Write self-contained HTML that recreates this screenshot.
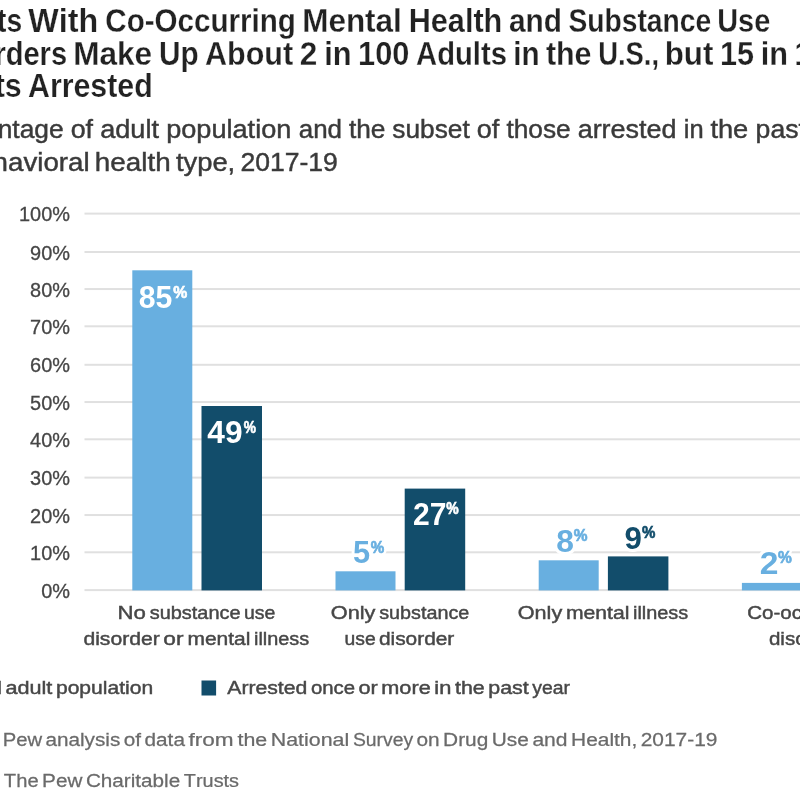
<!DOCTYPE html>
<html><head><meta charset="utf-8"><style>
html,body{margin:0;padding:0;background:#fff;width:800px;height:800px;overflow:hidden}
svg{display:block;filter:blur(0.4px)}
text{font-family:"Liberation Sans",sans-serif;font-kerning:none;white-space:pre}
</style></head><body>
<svg width="800" height="800" viewBox="0 0 800 800">
<rect width="800" height="800" fill="#fff"/>
<rect x="84.5" y="589.10" width="716" height="2" fill="#e0e0e0"/>
<rect x="84.5" y="551.31" width="716" height="2" fill="#e0e0e0"/>
<rect x="84.5" y="514.06" width="716" height="2" fill="#e0e0e0"/>
<rect x="84.5" y="476.62" width="716" height="2" fill="#e0e0e0"/>
<rect x="84.5" y="438.31" width="716" height="2" fill="#e0e0e0"/>
<rect x="84.5" y="401.06" width="716" height="2" fill="#e0e0e0"/>
<rect x="84.5" y="363.81" width="716" height="2" fill="#e0e0e0"/>
<rect x="84.5" y="325.31" width="716" height="2" fill="#e0e0e0"/>
<rect x="84.5" y="288.06" width="716" height="2" fill="#e0e0e0"/>
<rect x="84.5" y="251.00" width="716" height="2" fill="#e0e0e0"/>
<rect x="84.5" y="212.60" width="716" height="2" fill="#e0e0e0"/>
<rect x="132.30" y="270.30" width="60.0" height="320.10" fill="#68afe0"/>
<rect x="201.50" y="406.00" width="60.5" height="184.40" fill="#124d6b"/>
<rect x="335.50" y="571.30" width="60.0" height="19.10" fill="#68afe0"/>
<rect x="404.70" y="488.60" width="60.5" height="101.80" fill="#124d6b"/>
<rect x="538.70" y="560.30" width="60.0" height="30.10" fill="#68afe0"/>
<rect x="607.90" y="556.40" width="60.5" height="34.00" fill="#124d6b"/>
<rect x="741.90" y="582.90" width="60.0" height="7.50" fill="#68afe0"/>
<text transform="translate(-65.66 31.70) scale(0.8352 1)" font-size="33.80" font-weight="bold" fill="#222222" stroke="#fff" stroke-width="0.25" word-spacing="-2.08">Adults </text>
<text transform="translate(28.27 31.70) scale(0.9553 1)" font-size="33.80" font-weight="bold" fill="#222222" stroke="#fff" stroke-width="0.25" word-spacing="-2.08">With </text>
<text transform="translate(105.29 31.70) scale(0.8751 1)" font-size="33.80" font-weight="bold" fill="#222222" stroke="#fff" stroke-width="0.25" word-spacing="-2.08">Co-Occurring </text>
<text transform="translate(302.19 31.70) scale(0.9313 1)" font-size="33.80" font-weight="bold" fill="#222222" stroke="#fff" stroke-width="0.25" word-spacing="-2.08">Mental </text>
<text transform="translate(408.75 31.70) scale(0.9055 1)" font-size="33.80" font-weight="bold" fill="#222222" stroke="#fff" stroke-width="0.25" word-spacing="-2.08">Health </text>
<text transform="translate(508.93 31.70) scale(0.8830 1)" font-size="33.80" font-weight="bold" fill="#222222" stroke="#fff" stroke-width="0.25" word-spacing="-2.08">and </text>
<text transform="translate(568.49 31.70) scale(0.8349 1)" font-size="33.80" font-weight="bold" fill="#222222" stroke="#fff" stroke-width="0.25" word-spacing="-2.08">Substance </text>
<text transform="translate(717.27 31.70) scale(0.8535 1)" font-size="33.80" font-weight="bold" fill="#222222" stroke="#fff" stroke-width="0.25" word-spacing="-2.08">Use</text>
<text transform="translate(-68.52 64.70) scale(0.8595 1)" font-size="33.80" font-weight="bold" fill="#222222" stroke="#fff" stroke-width="0.25" word-spacing="-2.11">Disorders </text>
<text transform="translate(73.19 64.70) scale(0.9334 1)" font-size="33.80" font-weight="bold" fill="#222222" stroke="#fff" stroke-width="0.25" word-spacing="-2.11">Make </text>
<text transform="translate(159.01 64.70) scale(0.8798 1)" font-size="33.80" font-weight="bold" fill="#222222" stroke="#fff" stroke-width="0.25" word-spacing="-2.11">Up </text>
<text transform="translate(205.04 64.70) scale(0.9029 1)" font-size="33.80" font-weight="bold" fill="#222222" stroke="#fff" stroke-width="0.25" word-spacing="-2.11">About </text>
<text transform="translate(299.70 64.70) scale(0.9352 1)" font-size="33.80" font-weight="bold" fill="#222222" stroke="#fff" stroke-width="0.25" word-spacing="-2.11">2 </text>
<text transform="translate(324.15 64.70) scale(0.9098 1)" font-size="33.80" font-weight="bold" fill="#222222" stroke="#fff" stroke-width="0.25" word-spacing="-2.11">in 100 </text>
<text transform="translate(416.07 64.70) scale(0.8644 1)" font-size="33.80" font-weight="bold" fill="#222222" stroke="#fff" stroke-width="0.25" word-spacing="-2.11">Adults </text>
<text transform="translate(513.23 64.70) scale(0.8764 1)" font-size="33.80" font-weight="bold" fill="#222222" stroke="#fff" stroke-width="0.25" word-spacing="-2.11">in </text>
<text transform="translate(545.93 64.70) scale(0.8977 1)" font-size="33.80" font-weight="bold" fill="#222222" stroke="#fff" stroke-width="0.25" word-spacing="-2.11">the </text>
<text transform="translate(598.15 64.70) scale(0.8111 1)" font-size="33.80" font-weight="bold" fill="#222222" stroke="#fff" stroke-width="0.25" word-spacing="-2.11">U.S., </text>
<text transform="translate(664.74 64.70) scale(0.9242 1)" font-size="33.80" font-weight="bold" fill="#222222" stroke="#fff" stroke-width="0.25" word-spacing="-2.11">but </text>
<text transform="translate(720.07 64.70) scale(0.9045 1)" font-size="33.80" font-weight="bold" fill="#222222" stroke="#fff" stroke-width="0.25" word-spacing="-2.11">15 </text>
<text transform="translate(760.66 64.70) scale(0.9087 1)" font-size="33.80" font-weight="bold" fill="#222222" stroke="#fff" stroke-width="0.25" word-spacing="-2.11">in </text>
<text transform="translate(794.61 64.70) scale(0.8872 1)" font-size="33.80" font-weight="bold" fill="#222222" stroke="#fff" stroke-width="0.25" word-spacing="-2.11">100</text>
<text transform="translate(-72.64 97.20) scale(0.8967 1)" font-size="33.80" font-weight="bold" fill="#222222" stroke="#fff" stroke-width="0.25" word-spacing="-2.25">Adults </text>
<text transform="translate(28.05 97.20) scale(0.8967 1)" font-size="33.80" font-weight="bold" fill="#222222" stroke="#fff" stroke-width="0.25" word-spacing="-2.25">Arrested</text>
<text transform="translate(-71.19 137.90) scale(1.0144 1)" font-size="26.00" fill="#3a3a3a" stroke="#3a3a3a" stroke-width="0.45" word-spacing="-0.34">Percentage </text>
<text transform="translate(70.67 137.90) scale(1.0322 1)" font-size="26.00" fill="#3a3a3a" stroke="#3a3a3a" stroke-width="0.45" word-spacing="-0.34">of </text>
<text transform="translate(100.15 137.90) scale(1.0439 1)" font-size="26.00" fill="#3a3a3a" stroke="#3a3a3a" stroke-width="0.45" word-spacing="-0.34">adult population </text>
<text transform="translate(298.70 137.90) scale(0.9989 1)" font-size="26.00" fill="#3a3a3a" stroke="#3a3a3a" stroke-width="0.45" word-spacing="-0.34">and </text>
<text transform="translate(348.90 137.90) scale(1.0101 1)" font-size="26.00" fill="#3a3a3a" stroke="#3a3a3a" stroke-width="0.45" word-spacing="-0.34">the subset </text>
<text transform="translate(476.66 137.90) scale(1.0406 1)" font-size="26.00" fill="#3a3a3a" stroke="#3a3a3a" stroke-width="0.45" word-spacing="-0.34">of </text>
<text transform="translate(506.40 137.90) scale(1.0113 1)" font-size="26.00" fill="#3a3a3a" stroke="#3a3a3a" stroke-width="0.45" word-spacing="-0.34">those </text>
<text transform="translate(577.65 137.90) scale(1.0369 1)" font-size="26.00" fill="#3a3a3a" stroke="#3a3a3a" stroke-width="0.45" word-spacing="-0.34">arrested </text>
<text transform="translate(683.79 137.90) scale(0.9816 1)" font-size="26.00" fill="#3a3a3a" stroke="#3a3a3a" stroke-width="0.45" word-spacing="-0.34">in </text>
<text transform="translate(710.39 137.90) scale(1.0494 1)" font-size="26.00" fill="#3a3a3a" stroke="#3a3a3a" stroke-width="0.45" word-spacing="-0.34">the </text>
<text transform="translate(755.58 137.90) scale(1.0237 1)" font-size="26.00" fill="#3a3a3a" stroke="#3a3a3a" stroke-width="0.45" word-spacing="-0.34">past year, by</text>
<text transform="translate(-38.20 170.70) scale(1.0656 1)" font-size="26.00" fill="#3a3a3a" stroke="#3a3a3a" stroke-width="0.45" word-spacing="-2.31">behavioral </text>
<text transform="translate(94.87 170.70) scale(1.0693 1)" font-size="26.00" fill="#3a3a3a" stroke="#3a3a3a" stroke-width="0.45" word-spacing="-2.31">health </text>
<text transform="translate(175.89 170.70) scale(1.0531 1)" font-size="26.00" fill="#3a3a3a" stroke="#3a3a3a" stroke-width="0.45" word-spacing="-2.31">type, </text>
<text transform="translate(240.46 170.70) scale(1.0218 1)" font-size="26.00" fill="#3a3a3a" stroke="#3a3a3a" stroke-width="0.45" word-spacing="-2.31">2017-19</text>
<text transform="translate(41.17 597.70) scale(0.9733 1)" font-size="20.5" fill="#464646" stroke="#464646" stroke-width="0.30">0%</text>
<text transform="translate(30.08 559.91) scale(0.9733 1)" font-size="20.5" fill="#464646" stroke="#464646" stroke-width="0.30">10%</text>
<text transform="translate(30.08 522.66) scale(0.9733 1)" font-size="20.5" fill="#464646" stroke="#464646" stroke-width="0.30">20%</text>
<text transform="translate(30.08 485.22) scale(0.9733 1)" font-size="20.5" fill="#464646" stroke="#464646" stroke-width="0.30">30%</text>
<text transform="translate(30.08 446.91) scale(0.9733 1)" font-size="20.5" fill="#464646" stroke="#464646" stroke-width="0.30">40%</text>
<text transform="translate(30.08 409.66) scale(0.9733 1)" font-size="20.5" fill="#464646" stroke="#464646" stroke-width="0.30">50%</text>
<text transform="translate(30.08 372.41) scale(0.9733 1)" font-size="20.5" fill="#464646" stroke="#464646" stroke-width="0.30">60%</text>
<text transform="translate(30.08 333.91) scale(0.9733 1)" font-size="20.5" fill="#464646" stroke="#464646" stroke-width="0.30">70%</text>
<text transform="translate(30.08 296.66) scale(0.9733 1)" font-size="20.5" fill="#464646" stroke="#464646" stroke-width="0.30">80%</text>
<text transform="translate(30.08 259.60) scale(0.9733 1)" font-size="20.5" fill="#464646" stroke="#464646" stroke-width="0.30">90%</text>
<text transform="translate(18.98 221.20) scale(0.9733 1)" font-size="20.5" fill="#464646" stroke="#464646" stroke-width="0.30">100%</text>
<text transform="translate(117.48 619.00) scale(1.1989 1)" font-size="18.50" fill="#474747" stroke="#474747" stroke-width="0.45" word-spacing="-1.93">No </text>
<text transform="translate(149.75 619.00) scale(1.0767 1)" font-size="18.50" fill="#474747" stroke="#474747" stroke-width="0.45" word-spacing="-1.93">substance </text>
<text transform="translate(244.04 619.00) scale(1.0502 1)" font-size="18.50" fill="#474747" stroke="#474747" stroke-width="0.45" word-spacing="-1.93">use</text>
<text transform="translate(83.41 644.50) scale(1.1442 1)" font-size="18.50" fill="#474747" stroke="#474747" stroke-width="0.45" word-spacing="-2.06">disorder </text>
<text transform="translate(163.35 644.50) scale(1.2262 1)" font-size="18.50" fill="#474747" stroke="#474747" stroke-width="0.45" word-spacing="-2.06">or </text>
<text transform="translate(187.41 644.50) scale(1.1345 1)" font-size="18.50" fill="#474747" stroke="#474747" stroke-width="0.45" word-spacing="-2.06">mental </text>
<text transform="translate(253.97 644.50) scale(1.0747 1)" font-size="18.50" fill="#474747" stroke="#474747" stroke-width="0.45" word-spacing="-2.06">illness</text>
<text transform="translate(330.77 619.00) scale(1.1745 1)" font-size="18.50" fill="#474747" stroke="#474747" stroke-width="0.45" word-spacing="-1.95">Only </text>
<text transform="translate(379.25 619.00) scale(1.0687 1)" font-size="18.50" fill="#474747" stroke="#474747" stroke-width="0.45" word-spacing="-1.95">substance</text>
<text transform="translate(344.55 644.50) scale(1.0438 1)" font-size="18.50" fill="#474747" stroke="#474747" stroke-width="0.45" word-spacing="-1.97">use </text>
<text transform="translate(378.92 644.50) scale(1.1285 1)" font-size="18.50" fill="#474747" stroke="#474747" stroke-width="0.45" word-spacing="-1.97">disorder</text>
<text transform="translate(517.78 619.00) scale(1.1689 1)" font-size="18.50" fill="#474747" stroke="#474747" stroke-width="0.45" word-spacing="-2.04">Only </text>
<text transform="translate(565.90 619.00) scale(1.1426 1)" font-size="18.50" fill="#474747" stroke="#474747" stroke-width="0.45" word-spacing="-2.04">mental </text>
<text transform="translate(632.97 619.00) scale(1.0747 1)" font-size="18.50" fill="#474747" stroke="#474747" stroke-width="0.45" word-spacing="-2.04">illness</text>
<text transform="translate(747.26 619.00) scale(1.1100 1)" font-size="18.50" fill="#474747" stroke="#474747" stroke-width="0.45" word-spacing="-1.99">Co-occurring</text>
<text transform="translate(768.94 644.50) scale(1.1100 1)" font-size="18.50" fill="#474747" stroke="#474747" stroke-width="0.45" word-spacing="-1.99">disorders</text>
<text transform="translate(-73.28 693.50) scale(1.1426 1)" font-size="18.50" fill="#474747" stroke="#474747" stroke-width="0.45" word-spacing="-2.09">General </text>
<text transform="translate(5.38 693.50) scale(1.1705 1)" font-size="18.50" fill="#474747" stroke="#474747" stroke-width="0.45" word-spacing="-2.09">adult </text>
<text transform="translate(55.94 693.50) scale(1.1387 1)" font-size="18.50" fill="#474747" stroke="#474747" stroke-width="0.45" word-spacing="-2.09">population</text>
<rect x="201.5" y="680.5" width="14.6" height="15" fill="#124d6b"/>
<text transform="translate(227.26 693.50) scale(1.1463 1)" font-size="18.50" fill="#474747" stroke="#474747" stroke-width="0.45" word-spacing="-2.08">Arrested </text>
<text transform="translate(310.95 693.50) scale(1.1001 1)" font-size="18.50" fill="#474747" stroke="#474747" stroke-width="0.45" word-spacing="-2.08">once </text>
<text transform="translate(358.39 693.50) scale(1.1737 1)" font-size="18.50" fill="#474747" stroke="#474747" stroke-width="0.45" word-spacing="-2.08">or more </text>
<text transform="translate(434.34 693.50) scale(1.1817 1)" font-size="18.50" fill="#474747" stroke="#474747" stroke-width="0.45" word-spacing="-2.08">in </text>
<text transform="translate(454.98 693.50) scale(1.1567 1)" font-size="18.50" fill="#474747" stroke="#474747" stroke-width="0.45" word-spacing="-2.08">the past </text>
<text transform="translate(532.25 693.50) scale(1.0495 1)" font-size="18.50" fill="#474747" stroke="#474747" stroke-width="0.45" word-spacing="-2.08">year</text>
<text transform="translate(-72.91 745.50) scale(1.1292 1)" font-size="18.50" fill="#6a6a6a" stroke="#6a6a6a" stroke-width="0.25" word-spacing="-2.04">Source: </text>
<text transform="translate(2.64 745.50) scale(1.0950 1)" font-size="18.50" fill="#6a6a6a" stroke="#6a6a6a" stroke-width="0.25" word-spacing="-2.04">Pew </text>
<text transform="translate(45.42 745.50) scale(1.1216 1)" font-size="18.50" fill="#6a6a6a" stroke="#6a6a6a" stroke-width="0.25" word-spacing="-2.04">analysis of data </text>
<text transform="translate(188.48 745.50) scale(1.2214 1)" font-size="18.50" fill="#6a6a6a" stroke="#6a6a6a" stroke-width="0.25" word-spacing="-2.04">from </text>
<text transform="translate(237.48 745.50) scale(1.1559 1)" font-size="18.50" fill="#6a6a6a" stroke="#6a6a6a" stroke-width="0.25" word-spacing="-2.04">the National </text>
<text transform="translate(352.92 745.50) scale(1.0476 1)" font-size="18.50" fill="#6a6a6a" stroke="#6a6a6a" stroke-width="0.25" word-spacing="-2.04">Survey </text>
<text transform="translate(416.42 745.50) scale(1.1275 1)" font-size="18.50" fill="#6a6a6a" stroke="#6a6a6a" stroke-width="0.25" word-spacing="-2.04">on Drug Use </text>
<text transform="translate(532.41 745.50) scale(1.1384 1)" font-size="18.50" fill="#6a6a6a" stroke="#6a6a6a" stroke-width="0.25" word-spacing="-2.04">and </text>
<text transform="translate(571.09 745.50) scale(1.1288 1)" font-size="18.50" fill="#6a6a6a" stroke="#6a6a6a" stroke-width="0.25" word-spacing="-2.04">Health, </text>
<text transform="translate(640.75 745.50) scale(1.1303 1)" font-size="18.50" fill="#6a6a6a" stroke="#6a6a6a" stroke-width="0.25" word-spacing="-2.04">2017-19</text>
<text transform="translate(-63.95 787.00) scale(1.1094 1)" font-size="18.50" fill="#6a6a6a" stroke="#6a6a6a" stroke-width="0.25" word-spacing="-1.98">© 2023 </text>
<text transform="translate(3.85 787.00) scale(1.0930 1)" font-size="18.50" fill="#6a6a6a" stroke="#6a6a6a" stroke-width="0.25" word-spacing="-1.98">The </text>
<text transform="translate(42.10 787.00) scale(1.1192 1)" font-size="18.50" fill="#6a6a6a" stroke="#6a6a6a" stroke-width="0.25" word-spacing="-1.98">Pew Charitable </text>
<text transform="translate(183.85 787.00) scale(1.0734 1)" font-size="18.50" fill="#6a6a6a" stroke="#6a6a6a" stroke-width="0.25" word-spacing="-1.98">Trusts</text>
<text transform="translate(352.95 563.49) scale(0.9762 1)" font-size="31.50" font-weight="bold" fill="#fff" stroke="#fff" stroke-width="6" stroke-linejoin="round">5</text>
<text transform="translate(370.82 552.88) scale(0.9186 1)" font-size="16.50" font-weight="bold" fill="#fff" stroke="#fff" stroke-width="6" stroke-linejoin="round">%</text>
<text transform="translate(556.29 551.79) scale(1.0096 1)" font-size="31.50" font-weight="bold" fill="#fff" stroke="#fff" stroke-width="6" stroke-linejoin="round">8</text>
<text transform="translate(573.77 540.88) scale(0.9367 1)" font-size="16.50" font-weight="bold" fill="#fff" stroke="#fff" stroke-width="6" stroke-linejoin="round">%</text>
<text transform="translate(624.62 548.99) scale(0.9929 1)" font-size="31.50" font-weight="bold" fill="#fff" stroke="#fff" stroke-width="6" stroke-linejoin="round">9</text>
<text transform="translate(641.93 538.13) scale(0.9114 1)" font-size="16.50" font-weight="bold" fill="#fff" stroke="#fff" stroke-width="6" stroke-linejoin="round">%</text>
<text transform="translate(759.73 573.89) scale(1.0682 1)" font-size="31.50" font-weight="bold" fill="#fff" stroke="#fff" stroke-width="6" stroke-linejoin="round">2</text>
<text transform="translate(778.01 563.38) scale(0.9403 1)" font-size="16.50" font-weight="bold" fill="#fff" stroke="#fff" stroke-width="6" stroke-linejoin="round">%</text>
<text transform="translate(138.64 307.99) scale(0.9590 1)" font-size="31.50" font-weight="bold" fill="#fff">85</text>
<text transform="translate(173.31 297.58) scale(0.9548 1)" font-size="16.50" font-weight="bold" fill="#fff" stroke="#fff" stroke-width="0.7">%</text>
<text transform="translate(207.32 443.09) scale(1.0062 1)" font-size="31.50" font-weight="bold" fill="#fff">49</text>
<text transform="translate(243.76 432.58) scale(0.8318 1)" font-size="16.50" font-weight="bold" fill="#fff" stroke="#fff" stroke-width="0.7">%</text>
<text transform="translate(412.96 524.99) scale(0.9551 1)" font-size="31.50" font-weight="bold" fill="#fff">27</text>
<text transform="translate(446.15 514.48) scale(0.8463 1)" font-size="16.50" font-weight="bold" fill="#fff" stroke="#fff" stroke-width="0.7">%</text>
<text transform="translate(352.95 563.49) scale(0.9762 1)" font-size="31.50" font-weight="bold" fill="#68afe0">5</text>
<text transform="translate(370.82 552.88) scale(0.9186 1)" font-size="16.50" font-weight="bold" fill="#68afe0" stroke="#68afe0" stroke-width="0.7">%</text>
<text transform="translate(556.29 551.79) scale(1.0096 1)" font-size="31.50" font-weight="bold" fill="#68afe0">8</text>
<text transform="translate(573.77 540.88) scale(0.9367 1)" font-size="16.50" font-weight="bold" fill="#68afe0" stroke="#68afe0" stroke-width="0.7">%</text>
<text transform="translate(624.62 548.99) scale(0.9929 1)" font-size="31.50" font-weight="bold" fill="#124d6b">9</text>
<text transform="translate(641.93 538.13) scale(0.9114 1)" font-size="16.50" font-weight="bold" fill="#124d6b" stroke="#124d6b" stroke-width="0.7">%</text>
<text transform="translate(759.73 573.89) scale(1.0682 1)" font-size="31.50" font-weight="bold" fill="#68afe0">2</text>
<text transform="translate(778.01 563.38) scale(0.9403 1)" font-size="16.50" font-weight="bold" fill="#68afe0" stroke="#68afe0" stroke-width="0.7">%</text>
</svg>
</body></html>
